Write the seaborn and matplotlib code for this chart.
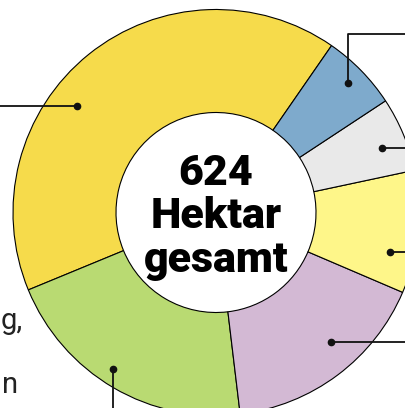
import numpy as np
import matplotlib.pyplot as plt
import seaborn as sns

sns.set_theme(style="white")
plt.rcParams["font.family"] = ["Roboto", "DejaVu Sans"]

# ===================== 数据 =====================
segmente = ["gelb", "gruen", "lila", "hellgelb", "grau", "blau"]
hektar = [255, 129, 104, 61, 37, 38]
farben = ["#f6db4b", "#b9da72", "#d3b9d4", "#fef689", "#e9e9e9", "#7eaacc"]
gesamt = sum(hektar)
titel_zeilen = [str(gesamt), "Hektar", "gesamt"]
rand_text = ["g,", "n"]

# ===================== 布局 =====================
W, H = 406, 408
cx, cy = 216, H - 212.5
r_aussen, r_innen = 203, 100

# Hinweislinien: Winkel, Radius des Punktes, Richtung
hinweise = [(142.4, 175, "links"), (236.6, 187, "unten"), (-48.3, 173, "rechts"),
            (-12.9, 178, "rechts"), (21.4, 178, "rechts"), (44.6, 185, "oben")]

fig = plt.figure(figsize=(W / 100, H / 100), dpi=100)
ax = fig.add_axes([0, 0, 1, 1])

ax.pie(hektar, colors=farben, startangle=55.3, counterclock=True,
       radius=r_aussen, center=(cx, cy),
       wedgeprops=dict(width=r_aussen - r_innen, edgecolor="black", linewidth=0.8))

for winkel, rad, richtung in hinweise:
    px = cx + rad * np.cos(np.radians(winkel))
    py = cy + rad * np.sin(np.radians(winkel))
    if richtung == "links":
        xs, ys = [px, -5], [py, py]
    elif richtung == "rechts":
        xs, ys = [px, W + 5], [py, py]
    elif richtung == "unten":
        xs, ys = [px, px], [py, -5]
    else:
        xs, ys = [px, px, W + 5], [py, H - 34, H - 34]
    ax.plot(xs, ys, color="#111111", lw=1.3, clip_on=False, solid_capstyle="butt")
    ax.plot(px, py, "o", color="#111111", ms=4.5)

# Mitte
for txt, base in zip(titel_zeilen, [185, 228, 272]):
    ax.text(cx, H - base, txt, ha="center", va="baseline", fontsize=31,
            fontweight="black", color="black")

# Text am linken Rand
for txt, (x, base) in zip(rand_text, [(0.5, 329), (2, 393)]):
    ax.text(x, H - base, txt, ha="left", va="baseline", fontsize=21,
            fontweight="normal", color="#222222")

ax.set_xlim(0, W)
ax.set_ylim(0, H)
ax.set_aspect("equal")
ax.axis("off")

fig.savefig("out.png", dpi=100)
